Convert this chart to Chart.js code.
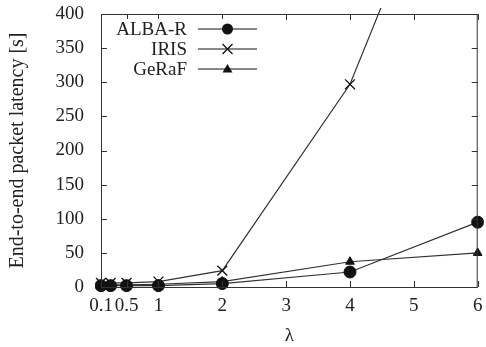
<!DOCTYPE html>
<html>
<head>
<meta charset="utf-8">
<script src="https://cdn.jsdelivr.net/npm/chart.js@4.4.1/dist/chart.umd.min.js"></script>
<style>
  html, body { margin: 0; padding: 0; background: #fff; }
  #wrap { width: 486px; height: 347px; }
</style>
</head>
<body>
<div id="wrap"><canvas id="chart"></canvas></div>
<script>
// values
const lambdas = [0.1, 0.25, 0.5, 1, 2, 4, 6];
const albaR = [2, 2, 2, 2, 5, 22, 95];
const iris = [6, 6, 6, 8, 24, 297, 760];
const geraf = [3, 3, 3, 4, 8, 37, 50];
const xTicks = [0.1, 0.5, 1, 2, 3, 4, 5, 6];
const yTicks = [0, 50, 100, 150, 200, 250, 300, 350, 400];

const font = 'Liberation Serif';
const toPoints = ys => ys.map((y, i) => ({ x: lambdas[i], y: y }));

// gnuplot style frame with inward ticks on all sides
const framePlugin = {
  id: 'frame',
  afterDatasetsDraw(chart) {
    const { ctx, chartArea: a, scales } = chart;
    ctx.save();
    ctx.strokeStyle = '#333';
    ctx.lineWidth = 1;
    ctx.strokeRect(a.left + 0.5, a.top + 0.5, a.right - a.left - 1, a.bottom - a.top);
    ctx.beginPath();
    xTicks.forEach(v => {
      const px = Math.round(scales.x.getPixelForValue(v)) + 0.5;
      ctx.moveTo(px, a.bottom); ctx.lineTo(px, a.bottom - 6);
      ctx.moveTo(px, a.top); ctx.lineTo(px, a.top + 6);
    });
    yTicks.forEach(v => {
      const py = Math.round(scales.y.getPixelForValue(v)) + 0.5;
      ctx.moveTo(a.left, py); ctx.lineTo(a.left + 6, py);
      ctx.moveTo(a.right, py); ctx.lineTo(a.right - 6, py);
    });
    ctx.stroke();
    ctx.restore();
  }
};

// legend in upper left: label, then line with marker
const legendPlugin = {
  id: 'innerLegend',
  afterDatasetsDraw(chart) {
    const { ctx, chartArea: a } = chart;
    ctx.save();
    ctx.font = '19px "' + font + '"';
    ctx.textAlign = 'right';
    ctx.textBaseline = 'middle';
    chart.data.datasets.forEach((ds, i) => {
      const y = a.top + 15 + i * 20;
      const x0 = a.left + 97;
      const x1 = a.left + 156;
      const cx = (x0 + x1) / 2;
      ctx.fillStyle = '#ffffff';
      ctx.fillRect(a.left + 8, y - 10, 152, 20);
      ctx.fillStyle = '#222';
      ctx.fillText(ds.label, a.left + 86, y + 1);
      ctx.strokeStyle = '#888';
      ctx.lineWidth = 2;
      ctx.beginPath();
      ctx.moveTo(x0, y); ctx.lineTo(x1, y);
      ctx.stroke();
      ctx.fillStyle = '#111';
      ctx.strokeStyle = '#111';
      ctx.lineWidth = ds.pointBorderWidth;
      ctx.beginPath();
      if (ds.pointStyle === 'circle') {
        ctx.arc(cx, y, 5.5, 0, Math.PI * 2);
        ctx.fill();
      } else if (ds.pointStyle === 'triangle') {
        const r = ds.pointRadius;
        ctx.moveTo(cx, y - r); ctx.lineTo(cx + r, y + r * 0.7); ctx.lineTo(cx - r, y + r * 0.7);
        ctx.closePath(); ctx.fill();
      } else {
        const r = 5;
        ctx.moveTo(cx - r, y - r); ctx.lineTo(cx + r, y + r);
        ctx.moveTo(cx + r, y - r); ctx.lineTo(cx - r, y + r);
        ctx.stroke();
      }
    });
    ctx.restore();
  }
};

const common = {
  borderColor: '#333',
  borderWidth: 1.2,
  pointBackgroundColor: '#111',
  pointBorderColor: '#111',
  tension: 0,
  clip: 6
};

new Chart(document.getElementById('chart'), {
  type: 'line',
  data: {
    datasets: [
      Object.assign({ label: 'ALBA-R', data: toPoints(albaR), pointStyle: 'circle', pointRadius: 6, pointBorderWidth: 1 }, common),
      Object.assign({ label: 'IRIS', data: toPoints(iris), pointStyle: 'crossRot', pointRadius: 7, pointBorderWidth: 1.3 }, common),
      Object.assign({ label: 'GeRaF', data: toPoints(geraf), pointStyle: 'triangle', pointRadius: 5, pointBorderWidth: 1 }, common)
    ]
  },
  options: {
    responsive: true,
    maintainAspectRatio: false,
    animation: false,
    layout: { padding: { top: 14, right: 3, left: 0, bottom: 0 } },
    plugins: {
      legend: { display: false },
      tooltip: { enabled: false }
    },
    scales: {
      x: {
        type: 'linear',
        min: 0.1,
        max: 6,
        afterBuildTicks: s => { s.ticks = xTicks.map(v => ({ value: v })); },
        afterFit: s => { s.height = 60; s.paddingLeft = 0; s.paddingRight = 0; },
        grid: { display: false },
        border: { display: false },
        ticks: {
          autoSkip: false,
          maxRotation: 0,
          padding: 0,
          color: '#222',
          font: { family: font, size: 19 },
          callback: v => String(v)
        },
        title: {
          display: true,
          text: 'λ',
          color: '#222',
          font: { family: font, size: 19 },
          padding: { top: 0, bottom: 0 }
        }
      },
      y: {
        min: 0,
        max: 400,
        afterBuildTicks: s => { s.ticks = yTicks.map(v => ({ value: v })); },
        afterFit: s => { s.width = 101; s.paddingTop = 0; s.paddingBottom = 0; },
        grid: { display: false },
        border: { display: false },
        ticks: {
          padding: 9,
          color: '#222',
          font: { family: font, size: 19 }
        },
        title: {
          display: true,
          text: 'End-to-end packet latency [s]',
          color: '#222',
          font: { family: font, size: 20 },
          padding: { top: 6, bottom: 2 }
        }
      }
    }
  },
  plugins: [framePlugin, legendPlugin]
});
</script>
</body>
</html>
